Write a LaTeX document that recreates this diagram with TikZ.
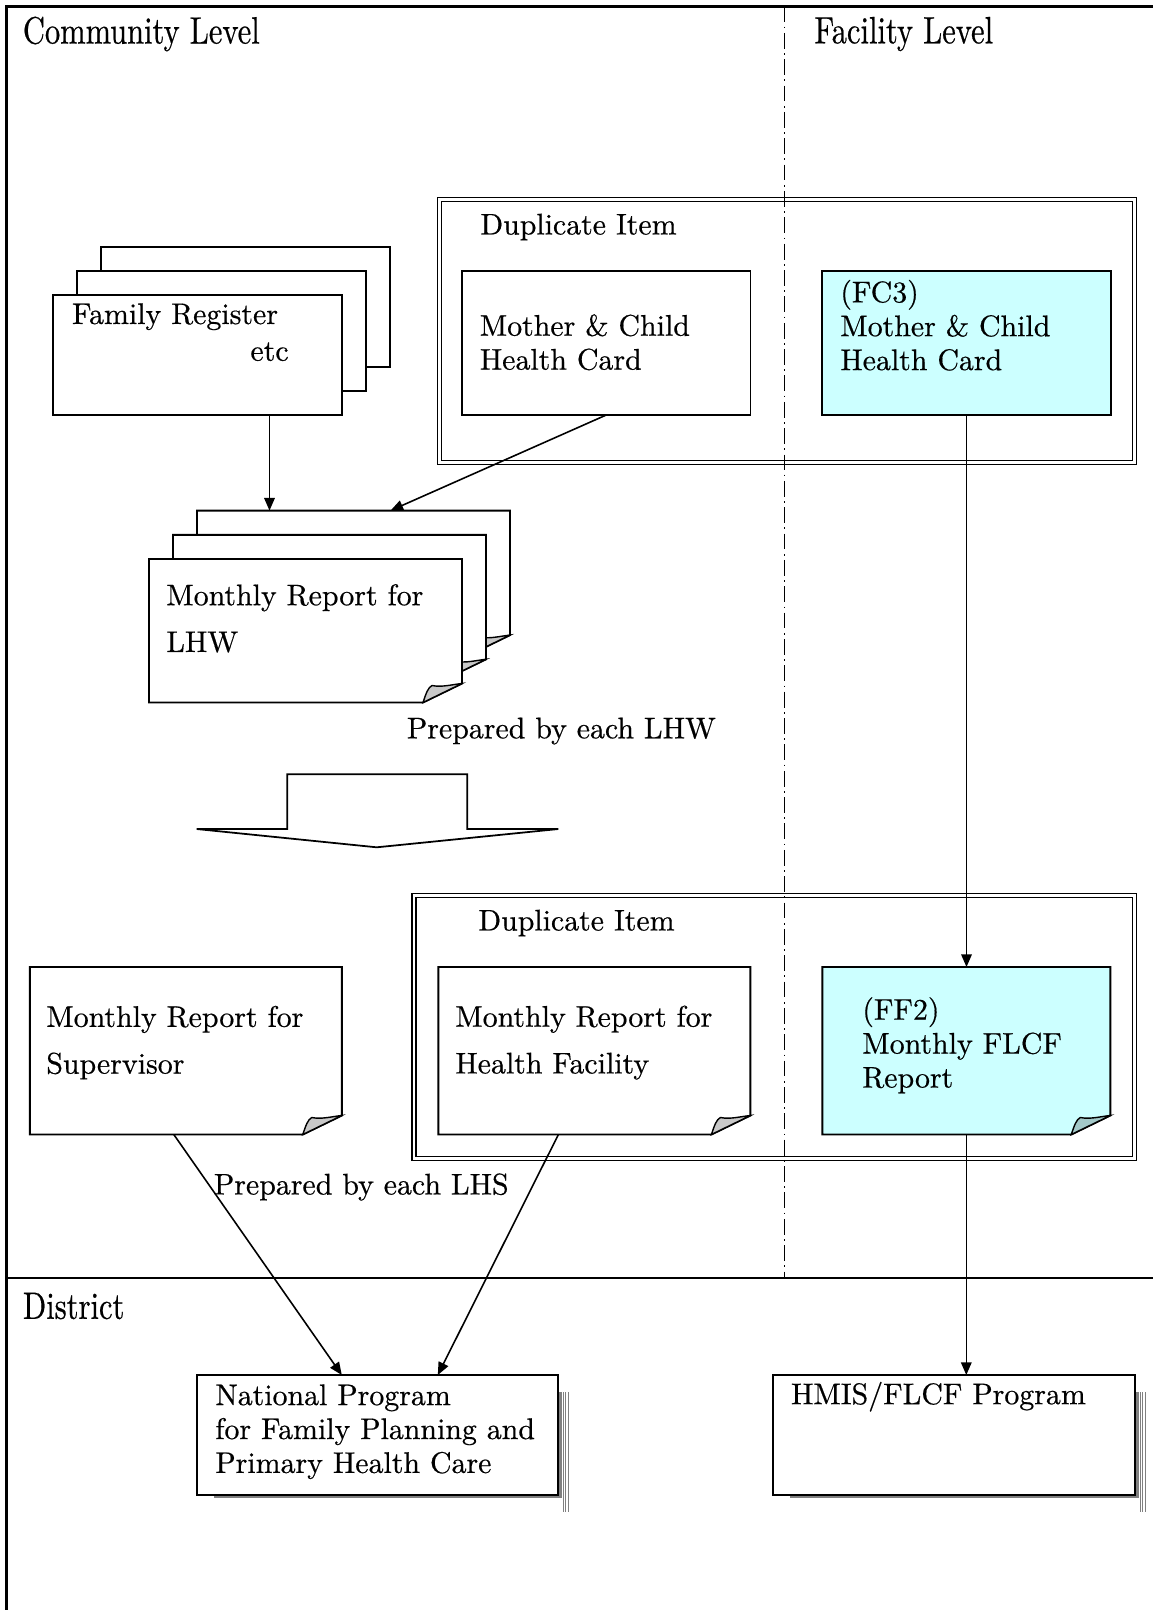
\documentclass[tikz,border=0pt]{standalone}
\usepackage{fontspec}
\setmainfont{lmroman10-regular.otf}[FakeBold=0.5]
\newfontfamily\headfont{lmroman10-regular.otf}[FakeStretch=0.8,FakeBold=0.5]
\usetikzlibrary{arrows.meta}

\definecolor{cardcyan}{HTML}{CCFFFF}
\definecolor{foldgray}{HTML}{C8C8C8}
\definecolor{foldcyan}{HTML}{A3C8C8}

% page with turned down corner: #1 node, #2 fill, #3 flap
\newcommand{\docpage}[3]{%
  \filldraw[pageline, fill=#2] (#1.north west) -- (#1.north east)
     -- ([shift={(0,-19)}]#1.south east) -- ([shift={(-39,0)}]#1.south east)
     -- (#1.south west) -- cycle;
  \filldraw[pageline, line width=0.8pt, fill=#3] ([shift={(-39,0)}]#1.south east)
     .. controls ([shift={(-36,-9)}]#1.south east) and ([shift={(-34,-15)}]#1.south east) .. ([shift={(-30,-17)}]#1.south east)
     .. controls ([shift={(-20,-15)}]#1.south east) and ([shift={(-10,-18)}]#1.south east) .. ([shift={(0,-19)}]#1.south east)
     -- cycle;
}

\begin{document}
\begin{tikzpicture}[x=0.02cm, y=-0.02cm,
  box/.style={inner sep=0pt, outer sep=0pt, anchor=north west},
  card/.style={box, draw, line width=1.1pt, fill=white},
  pageline/.style={line width=1.1pt},
  dupframe/.style={box, draw, double, double distance=1.45pt, line width=0.8pt},
  txt/.style={font=\fontsize{17}{19.3}\selectfont, align=left, inner sep=0pt, anchor=west},
  widetxt/.style={txt, font=\fontsize{17}{26.6}\selectfont},
  head/.style={font=\headfont\fontsize{21.7}{26}\selectfont, inner sep=0pt, anchor=west},
  flow/.style={-{Triangle[length=7.2pt,width=6pt]}, line width=0.9pt}]

 \def\pxu{0.02cm}
 \useasboundingbox (0,0) rectangle (1153,1610);

 %frame
 \draw[line width=1.3pt] (1153,6.5) -- (6.5,6.5) -- (6.5,1610);
 \draw[line width=1.1pt] (6.5,1278) -- (1153,1278);

 %duplicate frames
 \node[dupframe, minimum width=695*\pxu, minimum height=263*\pxu] (dup1) at (439.3,199.3) {};
 \node[dupframe, minimum width=720.5*\pxu, minimum height=263*\pxu] (dup2) at (414,895.3) {};

 %level 1
 \foreach \k in {2,1,0} {
         \node[card, minimum width=289*\pxu, minimum height=120*\pxu] (famreg\k) at (53+24*\k, 295-24*\k) {};
 }

 \node[card, minimum width=288.5*\pxu, minimum height=144*\pxu] (mcl) at (462,271) {};
 \node[card, fill=cardcyan, minimum width=289*\pxu, minimum height=144*\pxu] (fc3) at (822,271) {};

 \foreach \k in {2,1,0} {
         \node[box, minimum width=313*\pxu, minimum height=143.5*\pxu] (lhw\k) at (149+24*\k, 559-24.2*\k) {};
         \docpage{lhw\k}{white}{foldgray}
 }

 %block arrow
 \draw[line width=1pt, line join=miter] (287.3,774.3) -- (467.3,774.3) -- (467.3,829) -- (558.3,829)
     -- (376.7,847.3) -- (196.7,829) -- (287.3,829) -- cycle;

 %level 2
 \node[box, minimum width=312*\pxu, minimum height=167.5*\pxu] (supv) at (29.8,967) {};
 \node[box, minimum width=312*\pxu, minimum height=167.5*\pxu] (hf) at (438.4,967) {};
 \node[box, minimum width=288*\pxu, minimum height=167.5*\pxu] (ff2) at (822.3,967) {};
 \docpage{supv}{white}{foldgray}
 \docpage{hf}{white}{foldgray}
 \docpage{ff2}{cardcyan}{foldcyan}

 %district
 \node[box, minimum width=361*\pxu, minimum height=120*\pxu] (nat) at (197.3,1375) {};
 \node[box, minimum width=361.7*\pxu, minimum height=120*\pxu] (hmis) at (773.3,1375) {};
 \foreach \n in {nat,hmis} {
         \fill[gray] ([shift={(17,17)}]\n.north west) rectangle ([shift={(4,3)}]\n.south east);
         \foreach \s in {5,7.5,10}
              \draw[gray, line width=0.4pt] ([shift={(\s,17)}]\n.north east) -- ([shift={(\s,17)}]\n.south east);
         \draw[pageline, fill=white] (\n.north west) rectangle (\n.south east);
 }

 %level divider
 \draw[line width=0.8pt, dash pattern=on 9pt off 2.5pt on 1pt off 2.5pt] (784.4,6.5) -- (784.4,1278);

 %labels
 \node[head] (comm) at (22.6,34) {Community Level};
 \node[head] (facl) at (814,34) {Facility Level};
 \node[head] (dist) at (22.6,1306) {District};

 \node[txt] (dupt1) at (480,227) {Duplicate Item};
 \node[txt] (dupt2) at (478,923) {Duplicate Item};

 \node[txt] (famregt) at (71.7,316.7) {Family Register};
 \node[txt, anchor=east] (etc) at (289,351.7) {etc};
 \node[txt] (mclt) at (479.5,342.3) {Mother \& Child\\Health Card};
 \node[txt] (fc3t) at (840,325.3) {(FC3)\\Mother \& Child\\Health Card};
 \node[widetxt] (lhwt) at (166,618.4) {Monthly Report for\\LHW};
 \node[txt] (prepw) at (406.6,731) {Prepared by each LHW};

 \node[widetxt] (supvt) at (46,1042.6) {Monthly Report for\\Supervisor};
 \node[widetxt] (hft) at (455,1042.6) {Monthly Report for\\Health Facility};
 \node[txt] (ff2t) at (862,1045.3) {(FF2)\\Monthly FLCF\\Report};
 \node[txt] (preps) at (213.6,1187) {Prepared by each LHS};

 \node[txt] (natt) at (215,1431.7) {National Program\\for Family Planning and\\Primary Health Care};
 \node[txt] (hmist) at (790.7,1396.7) {HMIS/FLCF Program};

 %arrow
 \draw[flow] ([shift={(72,0)}]famreg0.south) -- ([shift={(72,0)}]famreg0.south |- lhw2.north);
 \draw[flow] (mcl.south) -- ([shift={(37,0)}]lhw2.north);
 \draw[flow] (fc3.south) -- (fc3.south |- ff2.north);
 \draw[flow] (ff2.south) -- (ff2.south |- hmis.north);
 \draw[flow] ([shift={(-12,0)}]supv.south) -- ([shift={(-36,0)}]nat.north);
 \draw[flow] ([shift={(-36,0)}]hf.south) -- ([shift={(60,0)}]nat.north);

\end{tikzpicture}
\end{document}
